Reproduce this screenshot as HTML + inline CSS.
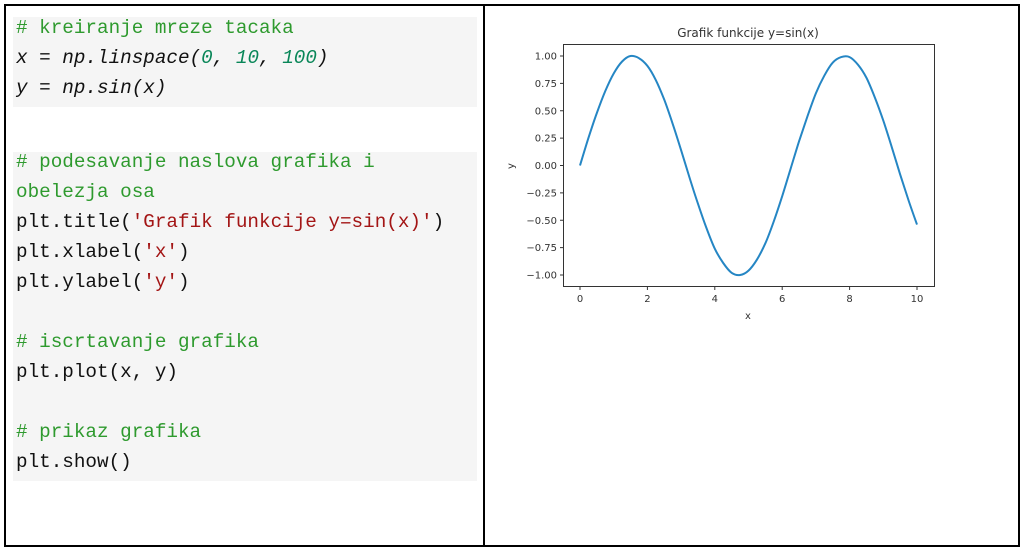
<!DOCTYPE html>
<html><head><meta charset="utf-8"><style>
body{margin:0;width:1025px;height:551px;background:#fff;position:relative;overflow:hidden}
.frame{position:absolute;left:4px;top:4px;width:1012px;height:539px;border:2px solid #000}
.div{position:absolute;left:483px;top:4px;width:2px;height:543px;background:#000}
.blk{position:absolute;left:13px;width:464px;background:#f5f5f5}
.code{position:absolute;left:16px;font-family:"Liberation Mono","Courier New","Nimbus Mono PS",Courier,monospace;font-size:19.3px;line-height:30px;white-space:pre;color:#111}
.c{color:#2e9a2e}.s{color:#a31515}.n{color:#098658}.i{font-style:italic}
</style></head><body>
<div class="frame"></div>
<div class="div"></div>
<div class="blk" style="top:17px;height:90px"></div>
<div class="blk" style="top:152px;height:329px"></div>
<div class="code" style="top:13px"><span class="c"># kreiranje mreze tacaka</span>
<span class="i">x = np.linspace(<span class="n">0</span>, <span class="n">10</span>, <span class="n">100</span>)</span>
<span class="i">y = np.sin(x)</span></div>
<div class="code" style="top:147px"><span class="c"># podesavanje naslova grafika i
obelezja osa</span>
plt.title(<span class="s">'Grafik funkcije y=sin(x)'</span>)
plt.xlabel(<span class="s">'x'</span>)
plt.ylabel(<span class="s">'y'</span>)

<span class="c"># iscrtavanje grafika</span>
plt.plot(x, y)

<span class="c"># prikaz grafika</span>
plt.show()</div>
<svg id="chart" width="1025" height="551" style="position:absolute;left:0;top:0"></svg>
<script>
const xs=[0,0.25,0.5,0.75,1,1.25,1.5,1.75,2,2.25,2.5,2.75,3,3.25,3.5,3.75,4,4.25,4.5,4.75,5,5.25,5.5,5.75,6,6.25,6.5,6.75,7,7.25,7.5,7.75,8,8.25,8.5,8.75,9,9.25,9.5,9.75,10];
const ys=[0,.25,.48,.68,.84,.95,1.00,.98,.91,.78,.60,.38,.14,-.11,-.35,-.57,-.76,-.89,-.98,-1.00,-.96,-.86,-.71,-.51,-.28,-.03,.22,.45,.66,.82,.94,.99,.99,.92,.80,.62,.41,.17,-.08,-.32,-.54];
const xTicks=[0,2,4,6,8,10];
const yTicks=[1,0.75,0.5,0.25,0,-0.25,-0.5,-0.75,-1];
const NS="http://www.w3.org/2000/svg",svg=document.getElementById('chart');
const X=v=>580+v*(917-580)/10, Y=v=>165.5-v*(275-56)/2;
function mk(t,a,p){const e=document.createElementNS(NS,t);for(const k in a)e.setAttribute(k,a[k]);(p||svg).appendChild(e);return e;}
let r=mk('rect',{x:563.5,y:44.5,width:371,height:242,fill:'none',stroke:'#333','stroke-width':1});


const F='font-family:"DejaVu Sans","Liberation Sans",sans-serif;font-size:10px;fill:#333';
xTicks.forEach(v=>{
 const l=mk('line',{x1:X(v),x2:X(v),y1:287,y2:290,stroke:'#333'});
 
 
 const t=mk('text',{x:X(v),y:302,'text-anchor':'middle',style:F});t.textContent=v;
 
 
});
yTicks.forEach(v=>{
 const l=mk('line',{x1:560,x2:563,y1:Y(v),y2:Y(v),stroke:'#333'});
 
 
 const t=mk('text',{x:557,y:Y(v)+3.5,'text-anchor':'end',style:F});t.textContent=v.toFixed(2).replace('-','\u2212');
 
 
});
let tt=mk('text',{x:748,y:37,'text-anchor':'middle',style:F.replace('10px','12px')});tt.textContent='Grafik funkcije y=sin(x)';


let xl=mk('text',{x:748,y:319,'text-anchor':'middle',style:F});xl.textContent='x';


let yl=mk('text',{x:0,y:0,'text-anchor':'middle',transform:'translate(514,166) rotate(-90)',style:F});yl.textContent='y';


const P=xs.map((x,i)=>[X(x),Y(ys[i])]);
let d='M'+P[0][0].toFixed(1)+','+P[0][1].toFixed(1);
for(let i=0;i<P.length-1;i++){
 const p0=P[Math.max(0,i-1)],p1=P[i],p2=P[i+1],p3=P[Math.min(P.length-1,i+2)];
 const c1=[p1[0]+(p2[0]-p0[0])/6,p1[1]+(p2[1]-p0[1])/6],c2=[p2[0]-(p3[0]-p1[0])/6,p2[1]-(p3[1]-p1[1])/6];
 d+='C'+c1.map(v=>v.toFixed(1))+' '+c2.map(v=>v.toFixed(1))+' '+p2.map(v=>v.toFixed(1));
}
let p=mk('path',{d:d,fill:'none',stroke:'#2586c4','stroke-width':2,'stroke-linejoin':'round'});


</script>
</body></html>
